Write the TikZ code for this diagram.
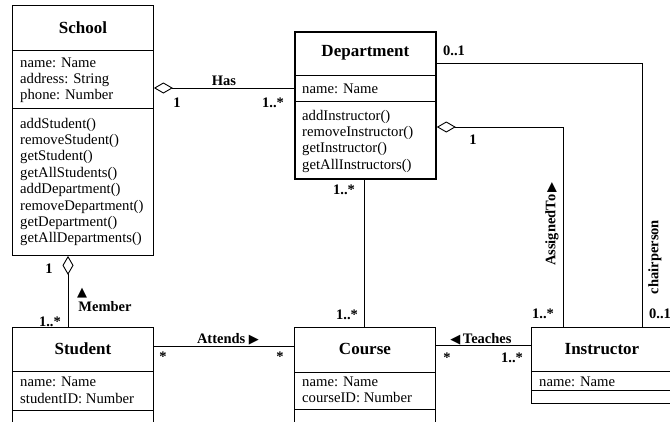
\documentclass[tikz,border=0pt]{standalone}
\usepackage{fontspec}
\setmainfont{Liberation Serif}
\newfontfamily\symfont{DejaVu Sans}
\usetikzlibrary{arrows.meta}
\tikzset{
    classbox/.style={draw, line width=0.9pt, rectangle, anchor=north west,
        minimum width=141pt, inner sep=0pt},
    classname/.style={font=\fontsize{17}{20}\selectfont\bfseries, inner sep=0pt},
    member/.style={anchor=base west, inner sep=0pt, font=\fontsize{14.7}{16.4}\selectfont},
    assoc/.style={font=\fontsize{14.5}{17}\selectfont\bfseries, inner sep=0pt},
    link/.style={line width=0.9pt},
    agg/.style={arrows={Diamond[open,length=19pt,width=11pt]}-},
}
\newcommand{\tri}[1]{{\symfont\fontsize{13}{14}\selectfont #1}}

\begin{document}
\begin{tikzpicture}[x=1pt,y=-1pt]
\useasboundingbox (0,0) rectangle (670,421);
\clip (0,0) rectangle (670,421);

% classes
\node[classbox, minimum height=250pt] (school) at (12,5) {};
\node[classbox, minimum height=147pt, line width=1.8pt] (dept) at (294,31) {};
\node[classbox, minimum height=130pt] (student) at (12,327) {};
\node[classbox, minimum height=130pt] (course) at (294,327) {};
\node[classbox, minimum height=76pt] (instr) at (531,327) {};

% compartments
\draw[link] (school.west |- 0,50) -- (school.east |- 0,50);
\draw[link] (school.west |- 0,108) -- (school.east |- 0,108);
\draw[link] (dept.west |- 0,75) -- (dept.east |- 0,75);
\draw[link] (dept.west |- 0,101) -- (dept.east |- 0,101);
\draw[link] (student.west |- 0,371) -- (student.east |- 0,371);
\draw[link] (student.west |- 0,410) -- (student.east |- 0,410);
\draw[link] (course.west |- 0,372) -- (course.east |- 0,372);
\draw[link] (course.west |- 0,409) -- (course.east |- 0,409);
\draw[link] (instr.west |- 0,371) -- (instr.east |- 0,371);
\draw[link] (instr.west |- 0,390) -- (instr.east |- 0,390);

% names
\node[classname] (school-t) at (school.north |- 0,28) {School};
\node[classname] (dept-t) at (dept.north |- 0,53) {Department};
\node[classname] (student-t) at (student.north |- 0,349) {Student};
\node[classname] (course-t) at (course.north |- 0,349) {Course};
\node[classname] (instr-t) at (instr.north |- 0,349) {Instructor};

% attributes and operations
\foreach \t [count=\i] in {name: Name, address: String, phone: Number}
    \node[member] (school-a\i) at (20,50.6+16.4*\i) {\t};
\foreach \t [count=\i] in {addStudent(), removeStudent(), getStudent(), getAllStudents(),
    addDepartment(), removeDepartment(), getDepartment(), getAllDepartments()}
    \node[member] (school-m\i) at (20,111.6+16.4*\i) {\t};
\node[member] (dept-a1) at (302,93) {name: Name};
\foreach \t [count=\i] in {addInstructor(), removeInstructor(), getInstructor(), getAllInstructors()}
    \node[member] (dept-m\i) at (302,103.6+16.4*\i) {\t};
\foreach \t [count=\i] in {name: Name, studentID: Number}
    \node[member] (student-a\i) at (20,370.3+16.4*\i) {\t};
\foreach \t [count=\i] in {name: Name, courseID: Number}
    \node[member] (course-a\i) at (302,370.1+16.4*\i) {\t};
\node[member] (instr-a1) at (539,386) {name: Name};

% associations
\draw[link, agg] (school.east |- 0,88) -- (dept.west |- 0,88);
\draw[link, agg] (school.south -| 68,0) -- (student.north -| 68,0);
\draw[link] (student.east |- 0,346) -- (course.west |- 0,346);
\draw[link] (dept.south -| 364,0) -- (course.north -| 364,0);
\draw[link] (course.east |- 0,345) -- (instr.west |- 0,345);
\draw[link, agg] (dept.east |- 0,127) -| (instr.north -| 563,0);
\draw[link] (dept.east |- 0,63) -| (instr.north -| 642,0);

% labels
\node[assoc] (has) at (224,81) {Has};
\node[assoc] (has-1) at (177,103) {1};
\node[assoc] (has-n) at (273,103) {1..*};
\node[assoc] (chair-1) at (454,51) {0..1};
\node[assoc] (assign-1) at (473,140) {1};
\node[assoc, rotate=90] (assign) at (552,224) {AssignedTo\,\tri{▶}};
\node[assoc, rotate=90] (chair) at (655,257) {chairperson};
\node[assoc] (assign-n) at (543,314) {1..*};
\node[assoc] (chair-2) at (660,314) {0..1};
\node[assoc] (teach) at (481,339) {\tri{◀}\,Teaches};
\node[assoc] (teach-1) at (447,358) {*};
\node[assoc] (teach-n) at (512,358) {1..*};
\node[assoc] (attend) at (228,339) {Attends \tri{▶}};
\node[assoc] (attend-1) at (163,357) {*};
\node[assoc] (attend-2) at (280,357) {*};
\node[assoc] (member-1) at (49,269) {1};
\node[assoc] (member-up) at (82,293) {\tri{▲}};
\node[assoc] (member) at (105,307) {Member};
\node[assoc] (member-n) at (50,322) {1..*};
\node[assoc] (dc-1) at (344,190) {1..*};
\node[assoc] (dc-2) at (347,315) {1..*};
\end{tikzpicture}
\end{document}
